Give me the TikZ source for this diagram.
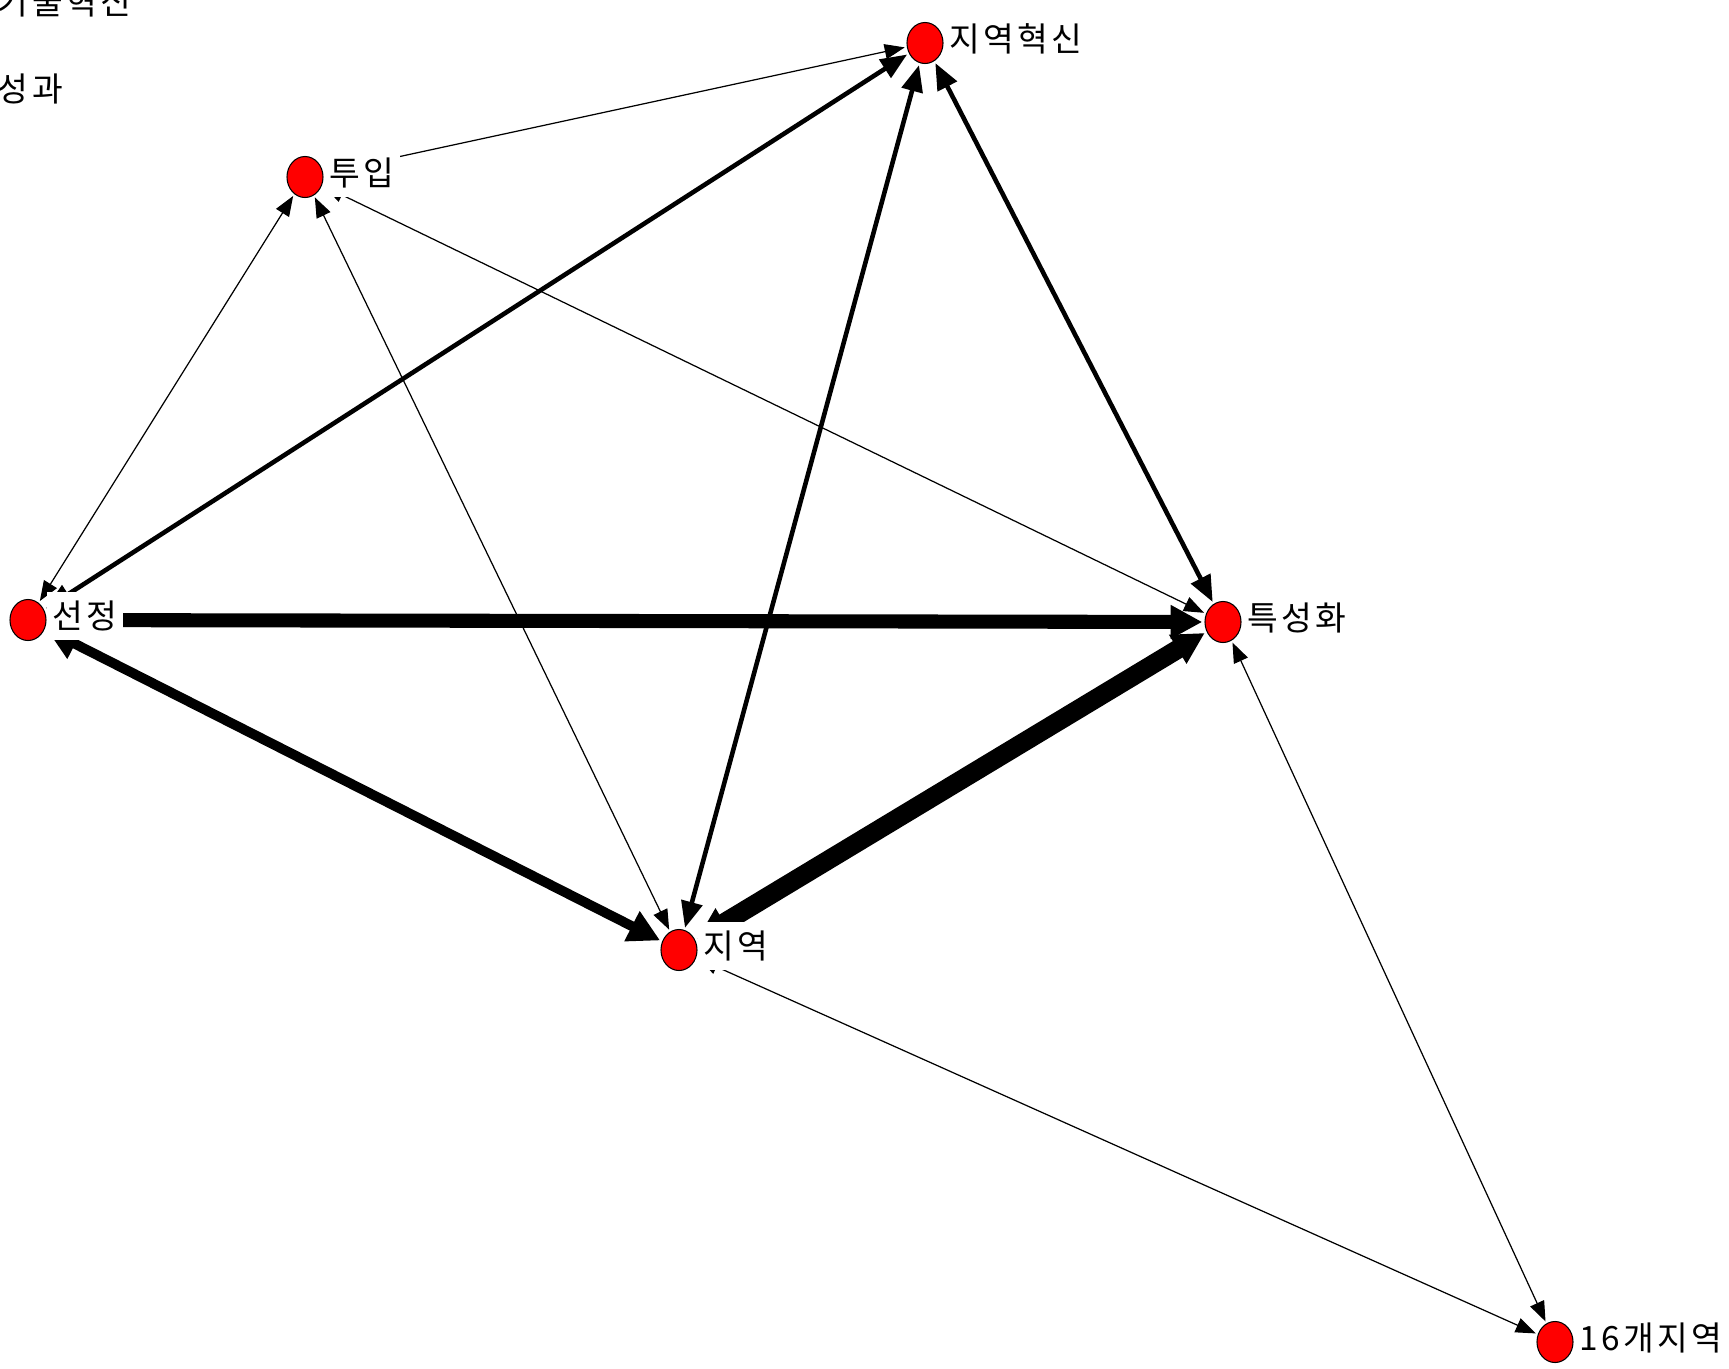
\documentclass[tikz,border=0pt]{standalone}
\usepackage{fontspec}
\setmainfont{Noto Sans CJK KR}
\newfontfamily\namefont[LetterSpace=10]{Noto Sans CJK KR}
\usetikzlibrary{arrows.meta,positioning,shapes.geometric}
\definecolor{actorred}{HTML}{FF0000}

\tikzset{
  actor/.style={ellipse,draw=black,line width=0.3pt,fill=actorred,
    minimum width=0.36cm,minimum height=0.41cm,inner sep=0pt},
  actorname/.style={fill=white,inner xsep=1.5pt,inner ysep=2.5pt,
    font=\namefont\fontsize{9.5pt}{11pt}\selectfont,yshift=1.2pt},
  thintie/.style={line width=0.35pt,>={Triangle[length=5.7pt,width=4.3pt]},<->,
    shorten <=0.6pt,shorten >=0.6pt},
  midtie/.style={line width=1.3pt,>={Triangle[length=7.5pt,width=6pt]},<->,
    shorten <=0.6pt,shorten >=0.6pt},
  heavytie/.style={>={Triangle[length=9pt,width=9pt]},<->,
    shorten <=0.6pt,shorten >=0.6pt}
}

\begin{document}
\begin{tikzpicture}[x=0.01cm,y=-0.01cm]
  \useasboundingbox (0,0) rectangle (1729,1369);
  \clip (0,0) rectangle (1729,1369);
  \fill[white] (0,0) rectangle (1729,1369);

  % actors
  \node[actor] (hyeoksin) at (925,43) {};
  \node[actor] (tuip) at (305,177) {};
  \node[actor] (seonjeong) at (28,620) {};
  \node[actor] (teukseong) at (1223,622) {};
  \node[actor] (jiyeok) at (679,950) {};
  \node[actor] (jiyeok16) at (1555,1342) {};

  % ties
  \draw[thintie] (tuip) -- (hyeoksin);
  \draw[thintie] (tuip) -- (seonjeong);
  \draw[thintie] (tuip) -- (jiyeok);
  \draw[thintie] (tuip) -- (teukseong);
  \draw[thintie] (jiyeok) -- (jiyeok16);
  \draw[thintie] (teukseong) -- (jiyeok16);
  \draw[midtie] (seonjeong) -- (hyeoksin);
  \draw[midtie] (jiyeok) -- (hyeoksin);
  \draw[midtie] (teukseong) -- (hyeoksin);
  \draw[heavytie,line width=2.8pt] (seonjeong) -- (jiyeok);
  \draw[heavytie,line width=4pt] (seonjeong) -- (teukseong);
  \draw[heavytie,line width=5.4pt] (jiyeok) -- (teukseong);

  % names
  \node[actorname,right=0pt of hyeoksin] (hyeoksinname) {지역혁신};
  \node[actorname,right=0pt of tuip] (tuipname) {투입};
  \node[actorname,right=0pt of seonjeong] (seonjeongname) {선정};
  \node[actorname,right=0pt of teukseong] (teukseongname) {특성화};
  \node[actorname,right=0pt of jiyeok] (jiyeokname) {지역};
  \node[actorname,right=0pt of jiyeok16] (jiyeok16name) {16개지역};

  % isolates, cut off at the left edge
  \node[actorname,anchor=west] (gisulname) at (-8,6) {기술혁신};
  \node[actorname,anchor=west] (seonggwaname) at (-8,93) {성과};
\end{tikzpicture}
\end{document}
